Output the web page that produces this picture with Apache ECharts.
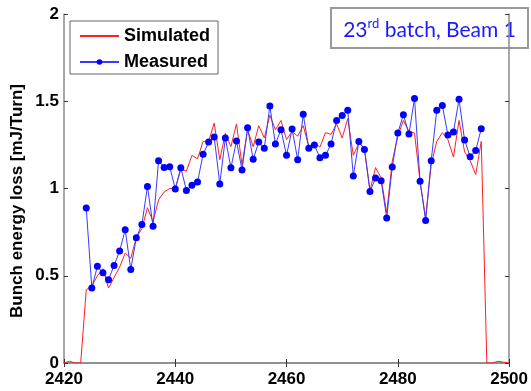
<!DOCTYPE html>
<html>
<head>
<meta charset="utf-8">
<script src="https://cdn.jsdelivr.net/npm/echarts@6/dist/echarts.min.js"></script>
<style>
html,body{margin:0;padding:0;background:#fff;}
#c{width:531px;height:391px;}
</style>
</head>
<body>
<div id="c"></div>
<script>
// Measured bunches and values
var measuredX = [2424,2425,2426,2427,2428,2429,2430,2431,2432,2433,2434,2435,2436,2437,2438,2439,2440,2441,2442,2443,2444,2445,2446,2447,2448,2449,2450,2451,2452,2453,2454,2455,2456,2457,2458,2459,2460,2461,2462,2463,2464,2465,2466,2467,2468,2469,2470,2471,2472,2473,2474,2475,2476,2477,2478,2479,2480,2481,2482,2483,2484,2485,2486,2487,2488,2489,2490,2491,2492,2493,2494,2495];
var measuredY = [0.888,0.430,0.554,0.517,0.477,0.559,0.642,0.764,0.536,0.718,0.794,1.012,0.783,1.159,1.121,1.125,0.997,1.119,0.989,1.018,1.037,1.196,1.266,1.295,1.026,1.289,1.119,1.272,1.106,1.348,1.167,1.266,1.230,1.473,1.255,1.337,1.190,1.341,1.165,1.425,1.230,1.249,1.176,1.190,1.255,1.389,1.419,1.448,1.072,1.270,1.224,0.983,1.060,1.045,0.831,1.123,1.318,1.423,1.312,1.516,1.041,0.817,1.159,1.448,1.476,1.307,1.324,1.511,1.278,1.182,1.218,1.343];
// Simulated bunches and values
var simX = [2420,2421,2422,2423,2424,2425,2426,2427,2428,2429,2430,2431,2432,2433,2434,2435,2436,2437,2438,2439,2440,2441,2442,2443,2444,2445,2446,2447,2448,2449,2450,2451,2452,2453,2454,2455,2456,2457,2458,2459,2460,2461,2462,2463,2464,2465,2466,2467,2468,2469,2470,2471,2472,2473,2474,2475,2476,2477,2478,2479,2480,2481,2482,2483,2484,2485,2486,2487,2488,2489,2490,2491,2492,2493,2494,2495,2496,2497,2498,2499,2500];
var simY = [0,0.01,0,0,0.42,0.44,0.50,0.54,0.43,0.49,0.55,0.63,0.60,0.72,0.77,0.89,0.81,0.935,0.98,1.00,1.00,1.11,1.10,1.19,1.17,1.27,1.27,1.375,1.165,1.317,1.24,1.37,1.136,1.337,1.24,1.36,1.29,1.42,1.337,1.39,1.28,1.326,1.30,1.36,1.24,1.266,1.237,1.32,1.31,1.37,1.29,1.40,1.19,1.26,1.23,0.99,1.12,1.06,0.86,1.155,1.30,1.39,1.327,1.318,1.04,0.83,1.136,1.27,1.32,1.28,1.18,1.39,1.21,1.16,1.08,1.27,0,0,0.01,0.005,0];
// Axis ticks
var xMin = 2420, xMax = 2500, xStep = 20;
var yMin = 0, yMax = 2, yStep = 0.5;
var seriesNames = ['Simulated', 'Measured'];
var yTitle = 'Bunch energy loss [mJ/Turn]';
var noteMain = '23', noteSup = 'rd', noteRest = ' batch, Beam 1';

var chart = echarts.init(document.getElementById('c'), null, {renderer: 'canvas'});
var lblFont = {fontFamily: 'Liberation Sans', fontWeight: 'bold', fontSize: 17, color: '#000'};
var frameLine = {show: true, lineStyle: {color: '#8a8a8a', width: 1.5}};
var tick = {show: true, inside: true, length: 4, lineStyle: {color: '#333', width: 1}};

function zip(a, b) { return a.map(function (v, i) { return [v, b[i]]; }); }

chart.setOption({
  animation: false,
  backgroundColor: '#fff',
  grid: {left: 64, top: 14, right: 20, bottom: 28, containLabel: false},
  xAxis: [
    {type: 'value', min: xMin, max: xMax, interval: xStep, position: 'bottom',
     axisLine: frameLine, axisTick: tick, splitLine: {show: false},
     axisLabel: Object.assign({margin: 8, formatter: function (v) { return String(v); }}, lblFont)},
    {type: 'value', min: xMin, max: xMax, interval: xStep, position: 'top',
     axisLine: frameLine, axisTick: tick, splitLine: {show: false}, axisLabel: {show: false}}
  ],
  yAxis: [
    {type: 'value', min: yMin, max: yMax, interval: yStep, position: 'left',
     axisLine: frameLine, axisTick: tick, splitLine: {show: false},
     axisLabel: Object.assign({margin: 5}, lblFont)},
    {type: 'value', min: yMin, max: yMax, interval: yStep, position: 'right',
     axisLine: frameLine, axisTick: tick, splitLine: {show: false}, axisLabel: {show: false}}
  ],
  legend: {
    orient: 'vertical', left: 70, top: 21,
    data: [{name: seriesNames[0], itemStyle: {opacity: 0}}, {name: seriesNames[1]}],
    backgroundColor: '#fff', borderColor: '#666', borderWidth: 1,
    padding: [5, 8, 2, 9],
    itemWidth: 39, itemHeight: 7, itemGap: 6,
    textStyle: {fontFamily: 'Liberation Sans', fontWeight: 'bold', fontSize: 18, lineHeight: 20, color: '#000'}
  },
  graphic: [
    {type: 'text', x: 17, y: 201, rotation: Math.PI / 2, z: 10,
     style: {text: yTitle, fontFamily: 'Liberation Sans', fontWeight: 'bold', fontSize: 17, fill: '#000', align: 'center', verticalAlign: 'middle'}},
    {type: 'group', x: 331, y: 8, z: 100, children: [
      {type: 'rect', shape: {x: 0, y: 0, width: 197, height: 40}, style: {fill: '#fff', stroke: '#999', lineWidth: 2}},
      {type: 'text', x: 98.5, y: 21, style: {
        text: '{a|' + noteMain + '}{s|' + noteSup + '}{a|' + noteRest + '}',
        align: 'center', verticalAlign: 'middle',
        rich: {
          a: {fontFamily: 'Lato', fontSize: 21, fill: '#1a1aff', color: '#1a1aff', lineHeight: 24, verticalAlign: 'bottom'},
          s: {fontFamily: 'Lato', fontSize: 13, fill: '#1a1aff', color: '#1a1aff', lineHeight: 24, verticalAlign: 'top'}
        }}}
    ]}
  ],
  series: [
    {name: seriesNames[0], type: 'line', xAxisIndex: 0, yAxisIndex: 0,
     data: zip(simX, simY), symbol: 'none', showSymbol: false,
     lineStyle: {color: '#ff2020', width: 1}, itemStyle: {color: '#ff2020'}, z: 2},
    {name: seriesNames[1], type: 'line', xAxisIndex: 0, yAxisIndex: 0,
     data: zip(measuredX, measuredY), symbol: 'circle', symbolSize: 7,
     lineStyle: {color: '#3a3aff', width: 1}, itemStyle: {color: '#0000ff'}, z: 3}
  ]
});
</script>
</body>
</html>
